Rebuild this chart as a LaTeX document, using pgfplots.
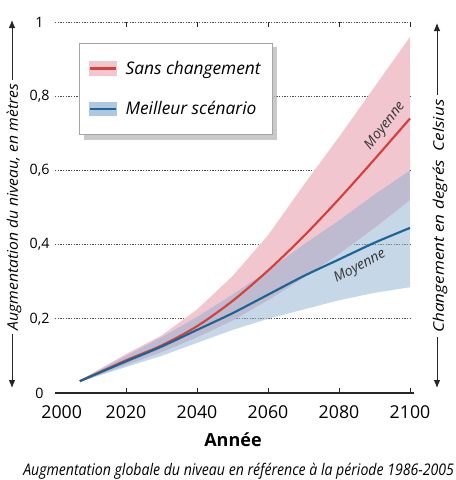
\documentclass[border=0pt]{standalone}
\usepackage{pgfplots}
\pgfplotsset{compat=1.18}
\usepackage{pgfplotstable}
\usetikzlibrary{arrows.meta}
\usepackage{graphicx}
\usepackage{fontspec}
\setmainfont{Open Sans}

\definecolor{redline}{RGB}{214,64,58}
\definecolor{blueline}{RGB}{27,100,150}
\definecolor{pinkband}{RGB}{241,198,207}
\definecolor{blueband}{RGB}{141,177,209}
\definecolor{gridc}{RGB}{80,80,80}

% mean lines
\pgfplotstableread{
year red blue
2007 0.032 0.032
2020 0.088 0.085
2030 0.128 0.125
2040 0.180 0.170
2050 0.248 0.215
2060 0.330 0.265
2070 0.422 0.315
2080 0.523 0.360
2090 0.630 0.405
2100 0.740 0.445
}\means

% red band outline: upper edge forward, lower edge back
\pgfplotstableread{
year v
2007 0.034
2020 0.105
2030 0.155
2040 0.225
2050 0.315
2060 0.425
2070 0.560
2080 0.690
2090 0.825
2100 0.960
2100 0.520
2090 0.445
2080 0.375
2070 0.310
2060 0.250
2050 0.195
2040 0.150
2030 0.110
2020 0.075
2007 0.030
}\redband

\pgfplotstableread{
year v
2007 0.034
2020 0.100
2030 0.150
2040 0.205
2050 0.265
2060 0.330
2070 0.400
2080 0.465
2090 0.535
2100 0.600
2100 0.285
2090 0.270
2080 0.250
2070 0.225
2060 0.200
2050 0.170
2040 0.135
2030 0.100
2020 0.070
2007 0.030
}\blueband

\pgfplotsset{
  redleg/.style={legend image code/.code={
    \fill[pinkband] (0pt,-5pt) rectangle (20pt,5pt);
    \draw[redline,line width=1.6pt] (0pt,0pt) -- (20pt,0pt);}},
  blueleg/.style={legend image code/.code={
    \fill[blueband!70] (0pt,-5pt) rectangle (20pt,5pt);
    \draw[blueline,line width=1.6pt] (0pt,0pt) -- (20pt,0pt);}},
}

\begin{document}
\begin{tikzpicture}
\useasboundingbox (0,0) rectangle (341.25pt,360pt);
\begin{axis}[
  at={(41.25pt,65.25pt)}, anchor=south west,
  scale only axis, width=266.25pt, height=278.25pt,
  xmin=2000, xmax=2100, ymin=0, ymax=1,
  axis line style={draw=none},
  xtick={2000,2020,2040,2060,2080,2100},
  xticklabels={\hspace*{10pt}2000,2020,2040,2060,2080,2100},
  major tick length=0pt,
  extra x ticks={2020,2040,2060,2080,2100},
  extra x tick labels={},
  extra x tick style={major tick length=4pt, tick align=inside, tick style={draw=black!85, line width=0.7pt}},
  ytick={0,0.2,0.4,0.6,0.8,1},
  yticklabels={0,{0,2},{0,4},{0,6},{0,8},1},
  ymajorgrids,
  grid style={gridc, line width=0.6pt, dash pattern=on 0.9pt off 1.1pt},
  xticklabel style={font=\fontsize{13.3pt}{14pt}\selectfont, anchor=base, yshift=-19.5pt},
  yticklabel style={font=\fontsize{10.7pt}{12pt}\selectfont, anchor=center, xshift=-11.6pt},
  clip=false,
  legend cell align=left,
  legend style={at={(0.0676,0.943)}, anchor=north west, draw=gray!70, line width=0.6pt,
    fill=white, inner xsep=7pt, inner ysep=11pt, row sep=15pt, column sep=4pt,
    font=\itshape\fontsize{13pt}{15pt}\selectfont},
]
\addplot[fill=pinkband, draw=none, forget plot] table[x=year,y=v]{\redband} -- cycle;
\addplot[fill=blueband, fill opacity=0.5, draw=none, forget plot] table[x=year,y=v]{\blueband} -- cycle;
\addplot[redline, line width=1.6pt, smooth, forget plot] table[x=year,y=red]{\means};
\addplot[blueline, line width=1.6pt, smooth, forget plot] table[x=year,y=blue]{\means};
\draw[black!85, line width=0.8pt] (axis cs:2000,0) -- (axis cs:2101,0);
% legend drop shadow
\fill[black!30, opacity=0.7] (axis cs:2008.2,0.932) rectangle (axis cs:2062.5,0.682);
\node[rotate=52, font=\itshape\fontsize{10.5pt}{11pt}\selectfont, text=black!80] at (axis cs:2093,0.720) {Moyenne};
\node[rotate=28, font=\itshape\fontsize{10.5pt}{11pt}\selectfont, text=black!80] at (axis cs:2085.9,0.340) {Moyenne};
\addlegendimage{redleg}\addlegendentry{Sans changement}
\addlegendimage{blueleg}\addlegendentry{Meilleur scénario}
\end{axis}
% side arrows
\draw[black!85, line width=0.7pt, -{Latex[length=6pt,width=5pt]}] (9pt,200pt) -- (9pt,345pt);
\draw[black!85, line width=0.7pt, -{Latex[length=6pt,width=5pt]}] (9pt,200pt) -- (9pt,69pt);
\node[rotate=90, fill=white, inner sep=3pt] at (10.5pt,204.75pt)
  {\resizebox{184.5pt}{\height}{\itshape\fontsize{11pt}{12pt}\selectfont Augmentation du niveau, en mètres}};
\draw[black!85, line width=0.7pt, -{Latex[length=6pt,width=5pt]}] (327.75pt,200pt) -- (327.75pt,342.75pt);
\draw[black!85, line width=0.7pt, -{Latex[length=6pt,width=5pt]}] (327.75pt,200pt) -- (327.75pt,69pt);
\node[rotate=90, fill=white, inner sep=3pt] at (330pt,198pt)
  {\resizebox{174.75pt}{\height}{\itshape\fontsize{11pt}{12pt}\selectfont Changement en degrés\ \ Celsius}};
\node[anchor=base, inner sep=0pt, font=\bfseries\fontsize{13.5pt}{14pt}\selectfont] at (174.75pt,24.75pt) {Année};
\node[anchor=base west, inner sep=0pt] at (17.25pt,3pt)
  {\resizebox{323pt}{\height}{\itshape\fontsize{12pt}{13pt}\selectfont Augmentation globale du niveau en référence à la période 1986-2005}};
\end{tikzpicture}
\end{document}
